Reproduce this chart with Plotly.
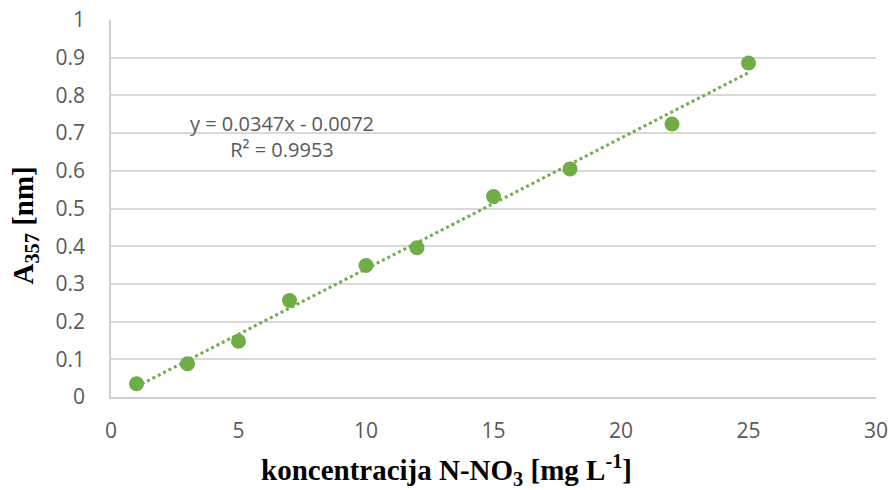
import plotly.graph_objects as go

conc = [1, 3, 5, 7, 10, 12, 15, 18, 22, 25]
absorb = [0.035, 0.088, 0.148, 0.256, 0.349, 0.396, 0.532, 0.605, 0.724, 0.886]
slope = 0.0347
intercept = -0.0072
x_ticks = [0, 5, 10, 15, 20, 25, 30]
y_ticks = [0, 0.1, 0.2, 0.3, 0.4, 0.5, 0.6, 0.7, 0.8, 0.9, 1]

green = "#70AD47"
gray = "#595959"
tick_font = dict(family="Open Sans, Lato, sans-serif", size=21, color=gray)
title_font = dict(family="Liberation Serif, Times New Roman, serif", size=29, color="black")

trend_x = [conc[0], conc[-1]]
trend_y = [slope * v + intercept for v in trend_x]

fig = go.Figure()
fig.add_trace(go.Scatter(x=trend_x, y=trend_y, mode="lines",
                         line=dict(color=green, width=3, dash="dot"),
                         showlegend=False, hoverinfo="skip"))
fig.add_trace(go.Scatter(x=conc, y=absorb, mode="markers",
                         marker=dict(color=green, size=15),
                         showlegend=False))

fig.add_annotation(x=0.2235, y=0.69, xref="paper", yref="paper",
                   xanchor="center", yanchor="middle",
                   text="y = 0.0347x - 0.0072<br>R² = 0.9953",
                   showarrow=False, align="center",
                   font=dict(family="Open Sans, Lato, sans-serif", size=20, color=gray))

# axis titles as annotations (positioned like the reference)
fig.add_annotation(x=0.438, y=-0.194, xref="paper", yref="paper",
                   xanchor="center", yanchor="middle", showarrow=False,
                   text="<b>koncentracija N-NO<sub>3</sub> [mg L<sup>-1</sup>]</b>",
                   font=title_font)
fig.add_annotation(x=-0.1124, y=0.455, xref="paper", yref="paper",
                   xanchor="center", yanchor="middle", showarrow=False, textangle=-90,
                   text="<b>A<sub>357</sub> [nm]</b>",
                   font=title_font)

fig.update_xaxes(range=[0, 30], tickvals=x_ticks, showgrid=False, automargin=False,
                 showline=True, linecolor="#d0d0d0", linewidth=1.5,
                 zeroline=False, ticks="outside", ticklen=14, tickcolor="rgba(0,0,0,0)",
                 tickfont=tick_font, ticklabeloverflow="allow")
fig.update_yaxes(range=[0, 1], tickvals=y_ticks, ticktext=[f"{v:g}" for v in y_ticks],
                 showgrid=True, gridcolor="#d9d9d9", gridwidth=1.5, automargin=False,
                 showline=True, linecolor="#d0d0d0", linewidth=1.5,
                 zeroline=False, ticks="outside", ticklen=20, tickcolor="rgba(0,0,0,0)",
                 tickfont=tick_font, ticklabeloverflow="allow")

fig.update_layout(width=890, height=490, plot_bgcolor="white", paper_bgcolor="white",
                  margin=dict(l=111, r=14, t=20, b=93))

fig.write_html("out.html", config={"displayModeBar": False},
               post_script="document.body.style.margin='0';document.body.style.overflow='hidden';")
